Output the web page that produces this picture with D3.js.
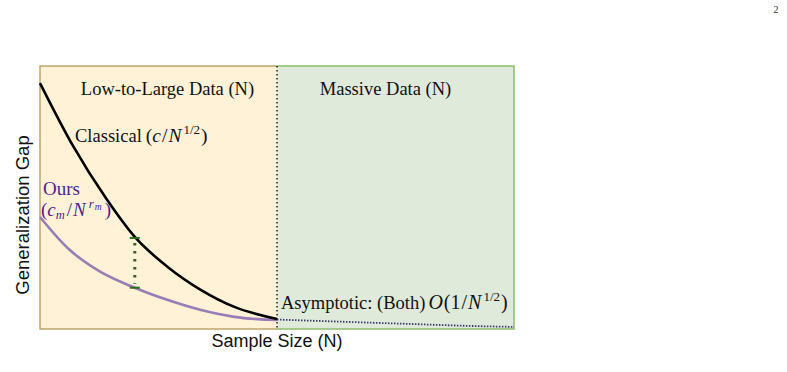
<!DOCTYPE html>
<html>
<head>
<meta charset="utf-8">
<script src="https://cdn.jsdelivr.net/npm/d3@7"></script>
<style>
  body { margin: 0; background: #fff; }
  svg { display: block; }
</style>
</head>
<body>
<svg id="canvas" width="787" height="372"></svg>
<script>
// data (sample size in %, gap in %)
var classicalN   = [0, 7, 14, 20, 27, 34, 41, 50];
var classicalGap = [93.5, 69.5, 49.5, 35, 23.5, 14.8, 8.4, 3.8];

var oursN   = [0, 6, 12.5, 20, 27, 34, 41, 50];
var oursGap = [42.6, 30.5, 22, 15.7, 11, 7.2, 4.6, 3.4];

var tailN   = [50, 60, 70, 80, 90, 100];
var tailGap = [3.6, 3.0, 2.4, 1.8, 1.2, 0.8];

var regions = [
  { name: 'Low-to-Large Data (N)', from: 0,  to: 50,  fill: '#fff2d6', edge: '#bca66a', shift: 9 },
  { name: 'Massive Data (N)',      from: 50, to: 100, fill: '#dfeadb', edge: '#8dbd6c', shift: -10 }
];
var gapAt = 20;

var margin = { left: 40, right: 273, top: 66, bottom: 43 };
var W = 787, H = 372;

var x = d3.scaleLinear().domain([0, 100]).range([margin.left, W - margin.right]);
var y = d3.scaleLinear().domain([0, 100]).range([H - margin.bottom, margin.top]);

var svg = d3.select('#canvas');
var serif = "'Liberation Serif', 'Times New Roman', serif";
var sans = "'Liberation Sans', Arial, sans-serif";

// ************************************************************************************************** //
// Background regions

svg.selectAll('rect.region').data(regions).enter().append('rect')
  .attr('class', 'region')
  .attr('x', d => x(d.from)).attr('y', y(100))
  .attr('width', d => x(d.to) - x(d.from)).attr('height', y(0) - y(100))
  .style('fill', d => d.fill);

var r0 = regions[0], r1 = regions[1];
svg.append('path')
  .attr('d', 'M' + x(r0.to) + ',' + y(100) + 'H' + x(r0.from) + 'V' + y(0) + 'H' + x(r0.to))
  .style('fill', 'none').style('stroke', r0.edge).style('stroke-width', 1.5);
svg.append('path')
  .attr('d', 'M' + x(r1.from) + ',' + y(100) + 'H' + x(r1.to) + 'V' + y(0) + 'H' + x(r1.from))
  .style('fill', 'none').style('stroke', r1.edge).style('stroke-width', 1.5);

// dotted divider
svg.append('line')
  .attr('x1', x(50)).attr('x2', x(50)).attr('y1', y(100)).attr('y2', y(0))
  .style('stroke', '#222').style('stroke-width', 1.5).style('stroke-dasharray', '1.5,2.5');

// ************************************************************************************************** //
// Curves

var line = d3.line().x(d => x(d[0])).y(d => y(d[1])).curve(d3.curveMonotoneX);

svg.append('path')
  .datum(d3.zip(tailN, tailGap))
  .attr('d', line)
  .style('fill', 'none').style('stroke', '#3a3a6a').style('stroke-width', 1.8).style('stroke-dasharray', '1.5,1.5');

svg.append('path')
  .datum(d3.zip(oursN, oursGap))
  .attr('d', line)
  .style('fill', 'none').style('stroke', '#9a7cb6').style('stroke-width', 2.6);

svg.append('path')
  .datum(d3.zip(classicalN, classicalGap))
  .attr('d', line)
  .style('fill', 'none').style('stroke', '#000').style('stroke-width', 2.6);

// gap marker
var gTop = classicalGap[classicalN.indexOf(gapAt)];
var gBot = oursGap[oursN.indexOf(gapAt)];
var gm = svg.append('g').style('stroke', '#2f6a1f');
gm.append('line').attr('x1', x(gapAt)).attr('x2', x(gapAt)).attr('y1', y(gTop) + 6).attr('y2', y(gBot) - 4)
  .style('stroke-width', 3).style('stroke-dasharray', '2.5,5.5');
gm.append('line').attr('x1', x(gapAt) - 5).attr('x2', x(gapAt) + 5).attr('y1', y(gTop) + 1).attr('y2', y(gTop) + 1).style('stroke-width', 2);
gm.append('line').attr('x1', x(gapAt) - 5).attr('x2', x(gapAt) + 5).attr('y1', y(gBot)).attr('y2', y(gBot)).style('stroke-width', 2);

// ************************************************************************************************** //
// Texts

svg.selectAll('text.region').data(regions).enter().append('text')
  .attr('class', 'region')
  .attr('x', d => (x(d.from) + x(d.to)) / 2 + d.shift).attr('y', 95)
  .attr('text-anchor', 'middle')
  .style('font-family', serif).style('font-size', '18.5px').style('fill', '#111')
  .text(d => d.name);

function mathLabel(px, py, color, parts){
  var t = svg.append('text').attr('x', px).attr('y', py)
    .style('font-family', serif).style('font-size', '18.5px').style('fill', color);
  parts.forEach(p => {
    var s = t.append('tspan').text(p.t);
    if(p.i) s.style('font-style', 'italic');
    if(p.dy) s.attr('dy', p.dy);
    if(p.dx) s.attr('dx', p.dx);
    if(p.fs) s.style('font-size', p.fs);
  });
  return t;
}

mathLabel(75, 142, '#111', [
  { t: 'Classical' }, { t: '(', dx: 4, fs: '19.5px' }, { t: 'c', i: 1, fs: '19.5px' }, { t: '/', dx: 1, fs: '19.5px' },
  { t: 'N', i: 1, fs: '19.5px', dx: 1 }, { t: '1/2', dx: 2, dy: -8, fs: '13px' }, { t: ')', dx: 1, dy: 8, fs: '19.5px' }
]);

svg.append('text').attr('x', 43).attr('y', 195)
  .style('font-family', serif).style('font-size', '19px').style('fill', '#4e2590').text('Ours');

mathLabel(41, 216, '#4e2590', [
  { t: '(', fs: '19px' }, { t: 'c', i: 1, fs: '19px' }, { t: 'm', i: 1, dy: 3, fs: '12.5px' }, { t: '/', dx: 2, dy: -3, fs: '19px' },
  { t: 'N', i: 1, dx: 1, fs: '19px' }, { t: 'r', i: 1, dx: 3, dy: -8, fs: '13px' }, { t: 'm', i: 1, dx: 1, dy: 2, fs: '9.5px' },
  { t: ')', dx: 3, dy: 6, fs: '19px' }
]);

mathLabel(281, 309, '#111', [
  { t: 'Asymptotic: (Both)' }, { t: 'O', i: 1, dx: 3, fs: '20px' }, { t: '(', dx: 1, fs: '20px' }, { t: '1', fs: '20px' },
  { t: '/', dx: 1, fs: '20px' }, { t: 'N', i: 1, dx: 1, fs: '20px' },
  { t: '1/2', dx: 2, dy: -8, fs: '13px' }, { t: ')', dx: 1, dy: 8, fs: '20px' }
]);

svg.append('text').attr('x', x(50)).attr('y', 347).attr('text-anchor', 'middle')
  .style('font-family', sans).style('font-size', '18px').style('fill', '#111').text('Sample Size (N)');

svg.append('text').attr('transform', 'translate(29,215) rotate(-90)')
  .attr('text-anchor', 'middle')
  .style('font-family', sans).style('font-size', '18.5px').style('fill', '#111').text('Generalization Gap');

svg.append('text').attr('x', 776).attr('y', 13).attr('text-anchor', 'middle')
  .style('font-family', serif).style('font-size', '10px').style('fill', '#333').text('2');
</script>
</body>
</html>
